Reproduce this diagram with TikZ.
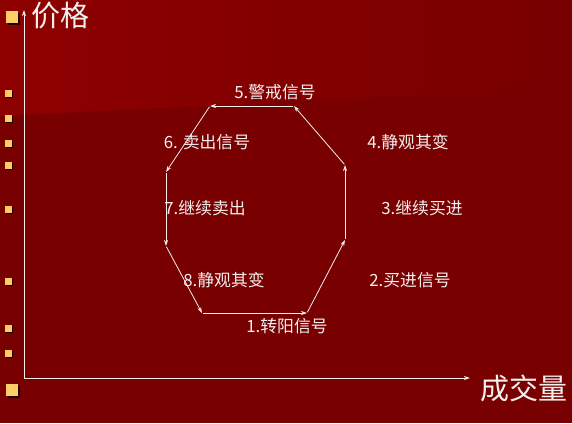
\documentclass[tikz,border=0pt]{standalone}
\usepackage{fontspec}
\newfontfamily\cjk{Noto Sans CJK SC}
\usetikzlibrary{arrows.meta,positioning}

\definecolor{bgdark}{HTML}{780000}
\definecolor{bglight}{HTML}{8E0000}
\definecolor{bullet}{HTML}{FFCC66}
\definecolor{ink}{HTML}{F4F0F0}

\begin{document}
\begin{tikzpicture}[x=1pt,y=-1pt,
  lbl/.style={text=ink,font=\cjk\fontsize{16.8}{19}\selectfont,inner sep=0pt},
  axlbl/.style={text=ink,font=\cjk\fontsize{29}{33}\selectfont,inner sep=0pt},
  edge/.style={draw=ink,line width=0.8pt,-{Stealth[length=6pt,width=4pt]},shorten <=1pt},
  axis/.style={draw=ink,line width=0.9pt,-{Stealth[length=6pt,width=4pt]}},
  sq/.style={fill=bullet,minimum size=7pt,inner sep=0pt},
  bigsq/.style={sq,minimum size=12pt},
  shd/.style={fill=black!75!bgdark}]
  % background
  \fill[bgdark] (0,0) rectangle (572,423);
  \shade[left color=bglight,right color=bgdark] (0,0) -- (572,0) -- (572,88) -- (0,116) -- cycle;
  \useasboundingbox (0,0) rectangle (572,423);

  % bullets at the left margin
  \fill[shd] (7.5,12.5) rectangle (19.5,24.5);
  \node[bigsq] (b0) at (12,17) {};
  \foreach \y [count=\i] in {93,118,143,165,209,281,328,353}{
    \fill[shd] (5.5,\y-2.5) rectangle (12.5,\y+4.5);
    \node[sq] (b\i) at (8,\y) {};
  }
  \fill[shd] (7.5,385.5) rectangle (19.5,397.5);
  \node[bigsq] (b9) at (12,390) {};

  % axes
  \coordinate (O) at (24,378);
  \coordinate (ytop) at (24,10);
  \coordinate (xend) at (470,378);
  \draw[axis] (O) -- (ytop);
  \draw[axis] (O) -- (xend);
  \node[axlbl,anchor=west] (price) at (31,16) {价格};
  \node[axlbl,anchor=west] (vol) at (480,388) {成交量};

  % octagon corners
  \coordinate (p1) at (202,313);
  \coordinate (p2) at (307,313);
  \coordinate (p3) at (345,240);
  \coordinate (p4) at (345,165);
  \coordinate (p5) at (294,106);
  \coordinate (p6) at (210,106);
  \coordinate (p7) at (166,172);
  \coordinate (p8) at (166,246);

  \draw[edge] (p1) -- (p2);
  \draw[edge] (p2) -- (p3);
  \draw[edge] (p3) -- (p4);
  \draw[edge] (p4) -- (p5);
  \draw[edge] (p5) -- (p6);
  \draw[edge] (p6) -- (p7);
  \draw[edge] (p7) -- (p8);
  \draw[edge] (p8) -- (p1);

  % stage labels
  \node[lbl] (s1) at (287,326) {1.转阳信号};
  \node[lbl] (s2) at (410,280) {2.买进信号};
  \node[lbl] (s3) at (422,208) {3.继续买进};
  \node[lbl] (s4) at (408,142) {4.静观其变};
  \node[lbl] (s5) at (275,92) {5.警戒信号};
  \node[lbl] (s6) at (207,142) {6. 卖出信号};
  \node[lbl] (s7) at (205,208) {7.继续卖出};
  \node[lbl] (s8) at (224,280) {8.静观其变};
\end{tikzpicture}
\end{document}
